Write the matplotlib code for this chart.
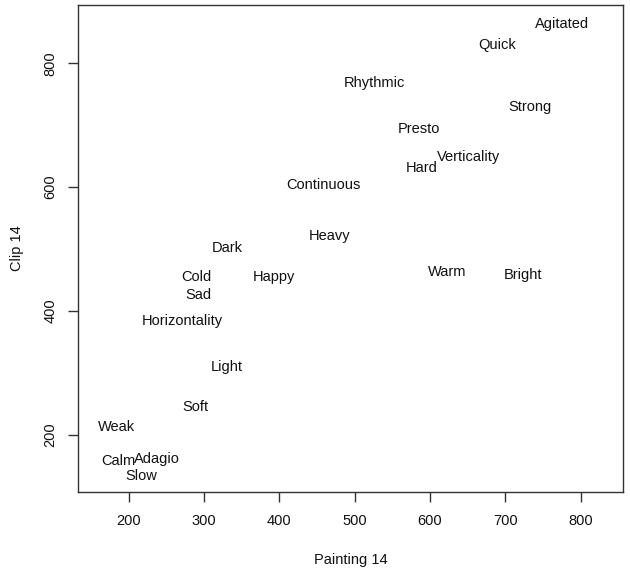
import matplotlib.pyplot as plt
import numpy as np

plt.rcParams['font.family'] = ['Liberation Sans', 'DejaVu Sans']

# words and their coordinates (painting 14 vs clip 14)
words = ["Agitated", "Quick", "Rhythmic", "Strong", "Presto", "Verticality",
         "Hard", "Continuous", "Heavy", "Warm", "Bright", "Dark", "Cold",
         "Happy", "Sad", "Horizontality", "Light", "Soft", "Weak", "Calm",
         "Adagio", "Slow"]
painting = np.array([775, 689, 526, 733, 585, 651, 589, 458, 466, 623, 723,
                     331, 290, 393, 293, 271, 330, 288, 184, 186, 237, 217])
clip = np.array([864, 829, 768, 729, 694, 649, 630, 603, 521, 463, 458,
                 502, 455, 455, 426, 384, 310, 245, 212, 158, 161, 134])

fig = plt.figure(figsize=(6.3, 5.73), dpi=100)
ax = fig.add_axes([0.1238, 0.1414, 0.8651, 0.8499])

for w, x, y in zip(words, painting, clip):
    ax.text(x, y, w, ha='center', va='center', fontsize=10.5, color='#111111')

ax.set_xlim(132.7, 856.1)
ax.set_ylim(107.5, 894.1)
ax.set_xticks([200, 300, 400, 500, 600, 700, 800])
ax.set_yticks([200, 400, 600, 800])
ax.set_yticklabels(["200", "400", "600", "800"], rotation=90, va='center')

for s in ax.spines.values():
    s.set_color('#333333')
    s.set_linewidth(1.0)
ax.tick_params(length=7, width=1.0, color='#333333', labelsize=10.5,
               labelcolor='#111111')
ax.tick_params(axis='x', pad=9)
ax.tick_params(axis='y', pad=8)

ax.set_xlabel("Painting 14", fontsize=10.5, color='#111111', labelpad=18)
ax.set_ylabel("Clip 14", fontsize=10.5, color='#111111', labelpad=14)

fig.savefig("out.png", dpi=100)
